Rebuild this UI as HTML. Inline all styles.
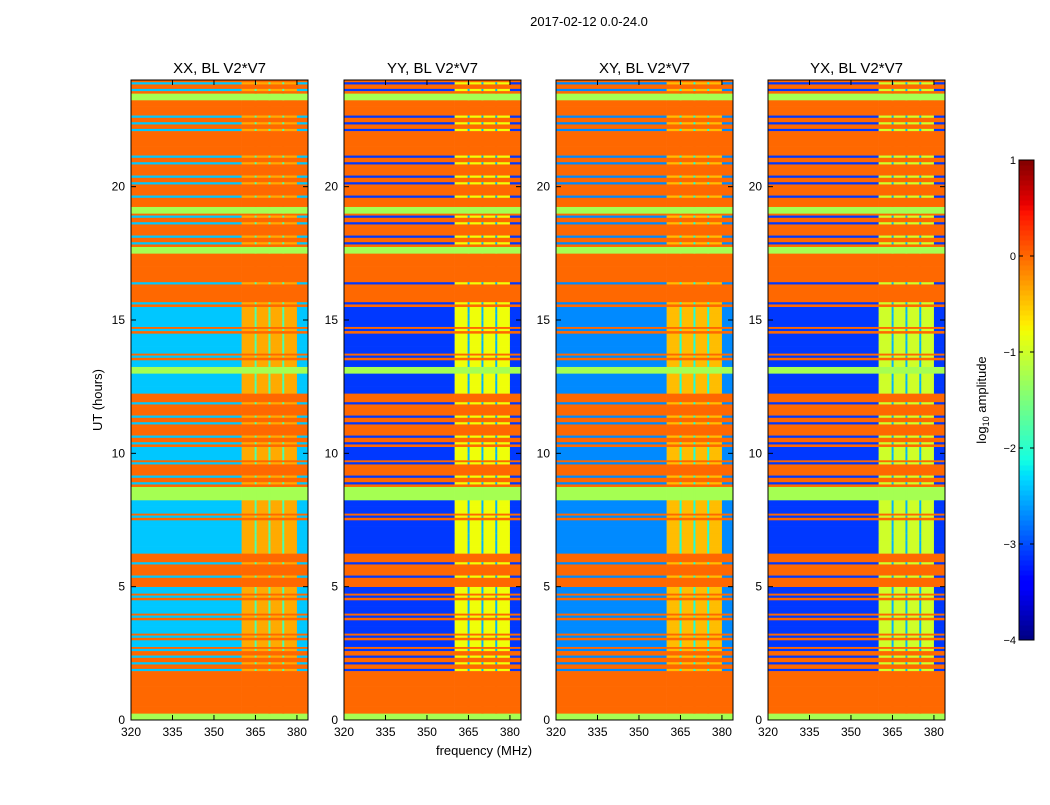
<!DOCTYPE html>
<html><head><meta charset="utf-8"><style>
body{margin:0;background:#fff;}
svg text{font-family:"Liberation Sans",sans-serif;fill:#000;}
</style></head><body>
<svg id="fig" width="1050" height="800" xmlns="http://www.w3.org/2000/svg">
<rect width="1050" height="800" fill="#fff"/>
<text x="589" y="26" font-size="13" text-anchor="middle">2017-02-12 0.0-24.0</text>
<text x="102" y="400" font-size="13" text-anchor="middle" transform="rotate(-90 102 400)">UT (hours)</text>
<text x="484" y="755" font-size="13" text-anchor="middle">frequency (MHz)</text>
</svg>
<script>
// ---- data ----
const panelTitles = ["XX, BL V2*V7","YY, BL V2*V7","XY, BL V2*V7","YX, BL V2*V7"];
// row codes, 0.25 h bins from 0 h upward: L=loud RFI, Q=quiet, G=green, M=mixed
const rowCodes = "GLLLLLLMMMMQMQQMQQMQLMLMLQQQQQMQQGGMMLMQQMMLMMLMLQQQGQMQQQMQQQMLLMLLLLGMMLMMGLMLMMLMMLLLMMMLLGMM";
const quietLow  = [-2.4, -3.1, -2.7, -3.1];
const quietHigh = [-0.35, -0.8, -0.45, -1.0];
const loudVal = 0.0;
const greenVal = -1.25;
const lineFreqs = [365, 370, 375];
const xTicks = [320,335,350,365,380];
const yTicks = [0,5,10,15,20];
const cbTicks = [1,0,-1,-2,-3,-4];
const panelLefts = [131,344,556,768];

const W=177, TOP=80, BOT=720, F0=320, F1=384, T0=0, T1=24;
const NS="http://www.w3.org/2000/svg";
const svg=document.getElementById('fig');
function el(tag,attrs,parent){const e=document.createElementNS(NS,tag);for(const k in attrs)e.setAttribute(k,attrs[k]);(parent||svg).appendChild(e);return e;}
function seg(pts,t){for(let i=1;i<pts.length;i++){if(t<=pts[i][0]){const a=pts[i-1],b=pts[i];return a[1]+(b[1]-a[1])*(t-a[0])/(b[0]-a[0]);}}return pts[pts.length-1][1];}
const JR=[[0,0],[0.35,0],[0.66,1],[0.89,1],[1,0.5]];
const JG=[[0,0],[0.125,0],[0.375,1],[0.64,1],[0.91,0],[1,0]];
const JB=[[0,0.5],[0.11,1],[0.34,1],[0.65,0],[1,0]];
function jet(v){let t=(v+4)/5;t=Math.max(0,Math.min(1,t));
  return `rgb(${Math.round(seg(JR,t)*255)},${Math.round(seg(JG,t)*255)},${Math.round(seg(JB,t)*255)})`;}
const yS=h=>BOT-(h-T0)/(T1-T0)*(BOT-TOP);

panelLefts.forEach((L,p)=>{
  const xS=f=>L+(f-F0)/(F1-F0)*W;
  const g=el('g',{});
  
  
  function band(f0,f1,y0,y1,v){const r=el('rect',{x:xS(f0),y:y0,width:xS(f1)-xS(f0)+0.3,height:y1-y0+0.3,fill:jet(v)},g);
    }
  function rowFill(y0,y1,lo,hi,lineV){band(320,360,y0,y1,lo);band(360,380,y0,y1,hi);band(380,384,y0,y1,lo);
    lineFreqs.forEach(f=>band(f-0.3,f+0.3,y0,y1,lineV));}
  const bw=(T1-T0)/rowCodes.length;
  for(let i=0;i<rowCodes.length;i++){
    const c=rowCodes[i];const yTop=yS((i+1)*bw),yBot=yS(i*bw);
    if(c==='L')rowFill(yTop,yBot,loudVal,loudVal,loudVal);
    else if(c==='G')rowFill(yTop,yBot,greenVal,greenVal,greenVal);
    else if(c==='Q')rowFill(yTop,yBot,quietLow[p],quietHigh[p],quietLow[p]+0.6);
    else {const h=(yBot-yTop)/3;
      rowFill(yTop,yTop+h,loudVal,loudVal,loudVal);
      rowFill(yTop+h,yTop+2*h,quietLow[p],quietHigh[p],quietLow[p]+0.6);
      rowFill(yTop+2*h,yBot,loudVal,loudVal,loudVal);}
  }
  const fr=el('rect',{x:L,y:TOP,width:W,height:BOT-TOP,fill:'none',stroke:'#000','stroke-width':1});
  
  const t=el('text',{x:L+W/2,y:TOP-7,'font-size':15,'text-anchor':'middle'});t.textContent=panelTitles[p];
  
  xTicks.forEach(f=>{const x=xS(f);
    el('line',{x1:x,x2:x,y1:BOT,y2:BOT-5,stroke:'#000'});el('line',{x1:x,x2:x,y1:TOP,y2:TOP+5,stroke:'#000'});
    const tx=el('text',{x:x,y:BOT+16,'font-size':12,'text-anchor':'middle'});tx.textContent=f;
    });
  yTicks.forEach(h=>{const y=yS(h);
    el('line',{x1:L,x2:L+5,y1:y,y2:y,stroke:'#000'});el('line',{x1:L+W,x2:L+W-5,y1:y,y2:y,stroke:'#000'});
    const ty=el('text',{x:L-6,y:y+4,'font-size':12,'text-anchor':'end'});ty.textContent=h;
    });
});

// colorbar
const CBX=1019,CBW=15,CBT=160,CBB=640;
const cb=el('g',{});
for(let i=0;i<96;i++){const v=-4+i*5/96;const y1=CBB-(i+1)*(CBB-CBT)/96;
  el('rect',{x:CBX,y:y1,width:CBW,height:(CBB-CBT)/96+0.5,fill:jet(v+5/192)},cb);}
el('rect',{x:CBX,y:CBT,width:CBW,height:CBB-CBT,fill:'none',stroke:'#000'},cb);
cbTicks.forEach(v=>{const y=CBB-(v+4)/5*(CBB-CBT);
  el('line',{x1:CBX,x2:CBX+4,y1:y,y2:y,stroke:'#000'});el('line',{x1:CBX+CBW,x2:CBX+CBW-4,y1:y,y2:y,stroke:'#000'});
  const t=el('text',{x:CBX-3,y:y+4,'font-size':11,'text-anchor':'end'});t.textContent=v<0?'\u2212'+(-v):v;
  });
const cl=el('text',{x:986,y:400,'font-size':13,'text-anchor':'middle',transform:'rotate(-90 986 400)'});
cl.innerHTML='log<tspan font-size="9" dy="3">10</tspan><tspan dy="-3"> amplitude</tspan>';

</script>
</body></html>
